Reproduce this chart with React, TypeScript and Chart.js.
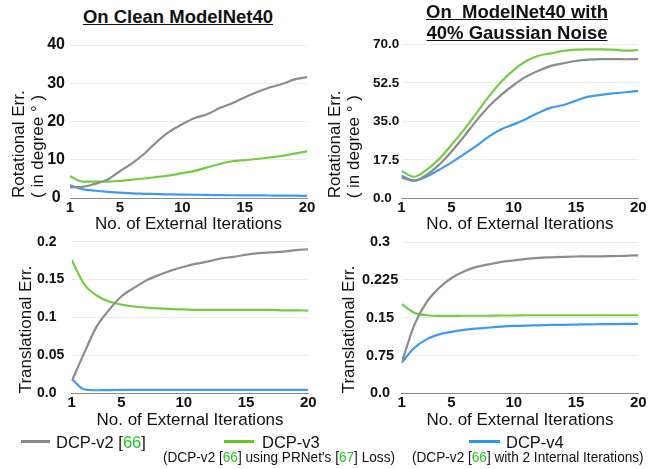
import React, { useEffect, useRef } from "react";
import { Chart, registerables } from "chart.js";

Chart.register(...registerables);

// ---------- data ----------
const iterations = [1, 2, 3, 4, 5, 6, 7, 8, 9, 10, 11, 12, 13, 14, 15, 16, 17, 18, 19, 20];
const xTickValues = [1, 5, 10, 15, 20];

const rotCleanV2 = [2.8, 2.9, 3.7, 4.8, 7.0, 9.1, 11.7, 14.8, 17.4, 19.3, 20.9, 21.9, 23.5, 24.8, 26.3, 27.7, 28.9, 29.8, 31.0, 31.6];
const rotCleanV3 = [5.7, 4.3, 4.3, 4.3, 4.5, 4.8, 5.1, 5.5, 5.9, 6.5, 7.1, 8.0, 8.9, 9.6, 9.9, 10.2, 10.6, 11.0, 11.6, 12.2];
const rotCleanV4 = [3.3, 2.3, 1.9, 1.6, 1.4, 1.2, 1.1, 1.0, 0.95, 0.9, 0.85, 0.8, 0.75, 0.72, 0.7, 0.68, 0.65, 0.62, 0.6, 0.55];

const rotNoiseV2 = [9.4, 8.0, 10.6, 15.2, 21.2, 28.0, 35.2, 41.7, 47.0, 51.5, 55.3, 58.0, 60.2, 61.4, 62.4, 63.0, 63.3, 63.3, 63.2, 63.3];
const rotNoiseV3 = [12.4, 9.8, 12.9, 17.7, 24.2, 31.1, 38.6, 46.2, 53.0, 58.3, 62.4, 64.8, 65.9, 67.0, 67.6, 67.7, 67.7, 67.6, 67.1, 67.4];
const rotNoiseV4 = [10.2, 8.0, 9.8, 12.9, 16.2, 20.0, 23.8, 28.0, 31.4, 33.6, 36.1, 38.9, 41.2, 42.4, 44.4, 46.2, 47.0, 47.7, 48.2, 48.8];

const transCleanV2 = [0.016, 0.053, 0.088, 0.11, 0.128, 0.139, 0.149, 0.156, 0.162, 0.167, 0.171, 0.174, 0.178, 0.18, 0.183, 0.185, 0.186, 0.187, 0.189, 0.19];
const transCleanV3 = [0.176, 0.144, 0.129, 0.121, 0.117, 0.1145, 0.113, 0.112, 0.111, 0.1106, 0.11, 0.11, 0.11, 0.11, 0.11, 0.11, 0.11, 0.1095, 0.1095, 0.109];
const transCleanV4 = [0.019, 0.0053, 0.004, 0.0043, 0.0044, 0.0045, 0.0045, 0.0045, 0.0045, 0.0045, 0.0045, 0.0045, 0.0045, 0.0045, 0.0045, 0.0045, 0.0045, 0.0045, 0.0045, 0.0045];

const transNoiseV2 = [0.061, 0.135, 0.181, 0.209, 0.229, 0.242, 0.251, 0.256, 0.261, 0.264, 0.267, 0.269, 0.27, 0.271, 0.2716, 0.272, 0.272, 0.2725, 0.273, 0.274];
const transNoiseV3 = [0.177, 0.16, 0.155, 0.1536, 0.1536, 0.154, 0.154, 0.154, 0.1545, 0.1545, 0.155, 0.155, 0.155, 0.155, 0.155, 0.155, 0.155, 0.155, 0.155, 0.155];
const transNoiseV4 = [0.061, 0.09, 0.107, 0.117, 0.122, 0.126, 0.1286, 0.1306, 0.1325, 0.1338, 0.1345, 0.135, 0.1358, 0.136, 0.1365, 0.137, 0.1372, 0.1375, 0.1377, 0.1378];

const rotCleanTicks = [0, 10, 20, 30, 40];
const rotCleanLabels = ["0", "10", "20", "30", "40"];
const rotNoiseTicks = [0, 17.5, 35, 52.5, 70];
const rotNoiseLabels = ["0.0", "17.5", "35.0", "52.5", "70.0"];
const transCleanTicks = [0, 0.05, 0.1, 0.15, 0.2];
const transCleanLabels = ["0.0", "0.05", "0.1", "0.15", "0.2"];
const transNoiseTicks = [0, 0.075, 0.15, 0.225, 0.3];
const transNoiseLabels = ["0.0", "0.75", "0.15", "0.225", "0.3"];

const seriesNames = ["DCP-v2", "DCP-v3", "DCP-v4"];

// ---------- styling ----------
const FONT = '"Liberation Sans", Arial, Helvetica, sans-serif';
const C_GRAY = "#8c8c8c";
const C_GREEN = "#74cc44";
const C_BLUE = "#3c9af0";
const TEXT = "#111111";
const REF_GREEN = "#1fc41f";
const TITLE_SIZE = 17;
const TITLE_LH = 1.15;

type Panel = {
  box: { left: number; top: number; w: number; h: number };
  area: { left: number; top: number; right: number; bottom: number };
  series: number[][];
  yTicks: number[];
  yLabels: string[];
  yMax: number;
  yTitle: string | string[];
  yTitleX: number; // centre of first title line, canvas coords
  tickSize: number;
  tickAlign: "near" | "center" | "far";
  tickPad: number;
  axisLeft: number; // left edge of the y-axis box
};

const panels: Panel[] = [
  {
    box: { left: 0, top: 30, w: 320, h: 205 },
    area: { left: 70, top: 15, right: 307, bottom: 168 },
    series: [rotCleanV2, rotCleanV3, rotCleanV4],
    yTicks: rotCleanTicks,
    yLabels: rotCleanLabels,
    yMax: 40,
    yTitle: ["Rotational Err.", "( in degree ° )"],
    yTitleX: 19,
    tickSize: 16,
    tickAlign: "center",
    tickPad: 5,
    axisLeft: 0,
  },
  {
    box: { left: 320, top: 30, w: 333, h: 205 },
    area: { left: 81.5, top: 14.3, right: 318.3, bottom: 168.3 },
    series: [rotNoiseV2, rotNoiseV3, rotNoiseV4],
    yTicks: rotNoiseTicks,
    yLabels: rotNoiseLabels,
    yMax: 70,
    yTitle: ["Rotational Err.", "( in degree ° )"],
    yTitleX: 15,
    tickSize: 13.5,
    tickAlign: "far",
    tickPad: 2,
    axisLeft: 53,
  },
  {
    box: { left: 0, top: 230, w: 320, h: 201 },
    area: { left: 71.7, top: 11.7, right: 308.3, bottom: 163.3 },
    series: [transCleanV2, transCleanV3, transCleanV4],
    yTicks: transCleanTicks,
    yLabels: transCleanLabels,
    yMax: 0.2,
    yTitle: "Translational Err.",
    yTitleX: 26,
    tickSize: 14,
    tickAlign: "far",
    tickPad: 3,
    axisLeft: 37,
  },
  {
    box: { left: 320, top: 230, w: 333, h: 201 },
    area: { left: 81.7, top: 11.7, right: 318.3, bottom: 163.3 },
    series: [transNoiseV2, transNoiseV3, transNoiseV4],
    yTicks: transNoiseTicks,
    yLabels: transNoiseLabels,
    yMax: 0.3,
    yTitle: "Translational Err.",
    yTitleX: 29,
    tickSize: 14.5,
    tickAlign: "center",
    tickPad: 3.5,
    axisLeft: 0,
  },
];

const colors = [C_GRAY, C_GREEN, C_BLUE];

function LineChart({ p }: { p: Panel }) {
  const ref = useRef<HTMLCanvasElement>(null);
  useEffect(() => {
    const canvas = ref.current;
    if (!canvas) return;
    const xAxisH = p.box.h - p.area.bottom;
    const yAxisW = p.area.left - p.axisLeft;
    const titlePad = p.yTitleX - p.axisLeft - (TITLE_SIZE * TITLE_LH) / 2;
    const chart = new Chart(canvas, {
      type: "line",
      data: {
        datasets: p.series.map((vals, si) => ({
          label: seriesNames[si],
          data: iterations.map((x, i) => ({ x, y: vals[i] })),
          borderColor: colors[si],
          backgroundColor: colors[si],
          borderWidth: 2.2,
          pointRadius: 0,
          fill: false,
          cubicInterpolationMode: "monotone" as const,
        })),
      },
      options: {
        animation: false,
        responsive: false,
        maintainAspectRatio: false,
        layout: {
          padding: { left: p.axisLeft, top: p.area.top, right: p.box.w - p.area.right, bottom: 0 },
        },
        plugins: { legend: { display: false }, tooltip: { enabled: false } },
        scales: {
          x: {
            type: "linear",
            min: 1,
            max: 20,
            grid: { display: false, drawTicks: false },
            border: { display: true, color: "#8a8a8a", width: 1 },
            afterBuildTicks: (s: any) => {
              s.ticks = xTickValues.map((v) => ({ value: v }));
            },
            ticks: {
              autoSkip: false,
              maxRotation: 0,
              padding: 1,
              color: TEXT,
              font: { family: FONT, size: 15, weight: "bold" },
              callback: (v: any) => String(v),
            },
            title: {
              display: true,
              text: "No. of External Iterations",
              color: TEXT,
              font: { family: FONT, size: 17 },
              padding: { top: 0, bottom: 0 },
            },
            afterFit: (s: any) => {
              s.height = xAxisH;
            },
          },
          y: {
            type: "linear",
            min: 0,
            max: p.yMax,
            grid: { color: "#ebebeb", drawTicks: false },
            border: { display: false },
            afterBuildTicks: (s: any) => {
              s.ticks = p.yTicks.map((v) => ({ value: v }));
            },
            ticks: {
              crossAlign: p.tickAlign,
              padding: p.tickPad,
              color: TEXT,
              font: { family: FONT, size: p.tickSize, weight: "bold" },
              callback: (_v: any, i: number) => p.yLabels[i],
            },
            title: {
              display: true,
              text: p.yTitle,
              align: "start",
              color: TEXT,
              font: { family: FONT, size: TITLE_SIZE, lineHeight: TITLE_LH },
              padding: { top: titlePad, bottom: 0 },
            },
            afterFit: (s: any) => {
              s.width = yAxisW;
            },
          },
        },
      } as any,
    });
    return () => chart.destroy();
  }, [p]);
  return (
    <canvas
      ref={ref}
      width={p.box.w}
      height={p.box.h}
      style={{
        position: "absolute",
        left: p.box.left,
        top: p.box.top,
        width: p.box.w,
        height: p.box.h,
      }}
    />
  );
}

const titleStyle: React.CSSProperties = {
  position: "absolute",
  width: 200,
  textAlign: "center",
  fontFamily: FONT,
  fontWeight: "bold",
  fontSize: 18.5,
  lineHeight: "21px",
  color: TEXT,
  whiteSpace: "pre",
};

const legendText: React.CSSProperties = {
  position: "absolute",
  fontFamily: FONT,
  fontSize: 16.5,
  lineHeight: "20px",
  color: TEXT,
  whiteSpace: "pre",
  top: 432,
};

const subText: React.CSSProperties = {
  position: "absolute",
  fontFamily: FONT,
  fontSize: 15,
  lineHeight: "18px",
  color: TEXT,
  whiteSpace: "pre",
  top: 448,
  transform: "scaleX(0.908)",
  transformOrigin: "0 50%",
};

const Ref = ({ n }: { n: string }) => <span style={{ color: REF_GREEN }}>{n}</span>;

export default function App() {
  return (
    <div
      style={{
        position: "absolute",
        left: 0,
        top: 0,
        width: 653,
        height: 469,
        background: "#ffffff",
        overflow: "hidden",
      }}
    >
      {panels.map((p, i) => (
        <LineChart key={i} p={p} />
      ))}

      <div style={{ ...titleStyle, left: 78, top: 6 }}>
        <span style={{ textDecoration: "underline" }}>On Clean ModelNet40</span>
      </div>
      <div style={{ ...titleStyle, left: 417, top: 1 }}>
        <span style={{ textDecoration: "underline" }}>On  ModelNet40 with</span>
        <br />
        <span style={{ textDecoration: "underline" }}>40% Gaussian Noise</span>
      </div>

      {/* legend */}
      <div style={{ position: "absolute", left: 21, top: 440, width: 29, height: 3, background: "#888888" }} />
      <div style={{ ...legendText, left: 56 }}>
        DCP-v2 [<Ref n="66" />]
      </div>
      <div style={{ position: "absolute", left: 224, top: 440, width: 30, height: 3, background: "#62c81e" }} />
      <div style={{ ...legendText, left: 262 }}>DCP-v3</div>
      <div style={{ ...subText, left: 163 }}>
        (DCP-v2 [<Ref n="66" />] using PRNet's [<Ref n="67" />] Loss)
      </div>
      <div style={{ position: "absolute", left: 469, top: 440, width: 31, height: 3, background: "#2f95f0" }} />
      <div style={{ ...legendText, left: 506 }}>DCP-v4</div>
      <div style={{ ...subText, left: 412 }}>
        (DCP-v2 [<Ref n="66" />] with 2 Internal Iterations)
      </div>
    </div>
  );
}
